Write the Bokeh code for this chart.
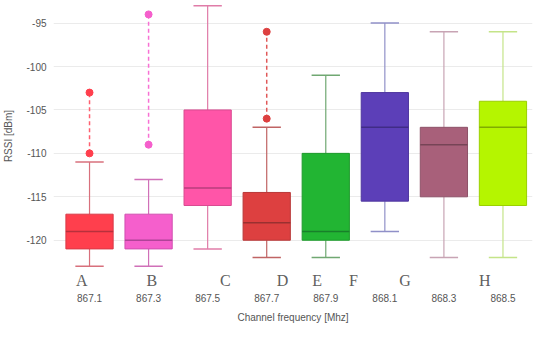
import numpy as np
from bokeh.plotting import figure
from bokeh.models import LinearAxis, FixedTicker, Range1d, ColumnDataSource
from bokeh.embed import file_html
from bokeh.resources import INLINE

# ---- data ----
freqs = ["867.1", "867.3", "867.5", "867.7", "867.9", "868.1", "868.3", "868.5"]
letters = ["A", "B", "C", "D", "E", "F", "G", "H"]
q1 = [-121, -121, -116, -120, -120, -115.5, -115, -116]
median = [-119, -120, -114, -118, -119, -107, -109, -107]
q3 = [-117, -117, -105, -114.5, -110, -103, -107, -104]
lower = [-123, -123, -121, -122, -122, -119, -122, -122]
upper = [-111, -113, -93, -107, -101, -95, -96, -96]
y_ticks = [-95, -100, -105, -110, -115, -120]

# outliers: category index and value
out_idx = [0, 0, 1, 1, 3, 3]
out_val = [-110, -103, -109, -94, -106, -96]

# annotation letter positions (in category units)
letter_pos = [0.367, 1.555, 2.8, 3.767, 4.355, 4.967, 5.84, 7.19]

fill_colors = ["#FF3F4D", "#F55FCC", "#FF55A8", "#DD4040", "#22B533", "#5C3FB8", "#A8607A", "#B5F500"]
line_colors = ["#D83A48", "#D050B0", "#D84A90", "#B83838", "#1E9A2C", "#4E369E", "#8E5268", "#9AD000"]
med_colors = ["#B8303C", "#B04498", "#B83E7C", "#9A3030", "#18802A", "#402C86", "#764456", "#80AC00"]
whisk_colors = ["#D8707C", "#D070B8", "#E07CA8", "#C06464", "#70A872", "#9090C8", "#C8A4B4", "#C4E488"]
out_colors = ["#FF3F4D", "#F55FCC", "#DD4040"]
out_line_colors = ["#FF6070", "#F870D4", "#E05858"]

# ---- derived positions ----
xc = np.arange(len(freqs)) + 0.5
bw = 0.8
cw = 0.48

src = ColumnDataSource(dict(
    x=xc, q1=q1, q3=q3, med=median, lo=lower, up=upper,
    fill=fill_colors, line=line_colors, medc=med_colors, wc=whisk_colors,
    bx0=xc - bw / 2, bx1=xc + bw / 2, cx0=xc - cw / 2, cx1=xc + cw / 2,
))

p = figure(width=534, height=325, output_backend="svg", toolbar_location=None,
           x_range=Range1d(-0.11, 8.0), y_range=Range1d(-123.6, -92.4),
           x_axis_location=None, min_border_top=0, min_border_right=2,
           min_border_left=0, min_border_bottom=0)
p.outline_line_color = None
p.xgrid.visible = False
p.ygrid.grid_line_color = "#EBEBEB"
p.ygrid.grid_line_width = 1

# y axis
ya = p.yaxis[0]
ya.ticker = FixedTicker(ticks=y_ticks)
ya.major_label_overrides = {t: str(t) for t in y_ticks}
ya.axis_line_color = None
ya.major_tick_line_color = None
ya.minor_tick_line_color = None
ya.major_tick_out = 0
ya.minor_tick_out = 0
ya.major_label_text_font = "Arial"
ya.major_label_text_font_size = "10px"
ya.major_label_text_color = "#555555"
ya.major_label_standoff = 7
ya.axis_label = "RSSI [dBm]"
ya.axis_label_text_font = "Arial"
ya.axis_label_text_font_style = "normal"
ya.axis_label_text_font_size = "10px"
ya.axis_label_text_color = "#555555"
ya.axis_label_standoff = 9

# letter axis (closest to plot)
la = LinearAxis(ticker=FixedTicker(ticks=letter_pos),
                major_label_overrides={pos: l for pos, l in zip(letter_pos, letters)})
la.axis_line_color = None
la.major_tick_line_color = None
la.minor_tick_line_color = None
la.major_tick_out = 0
la.minor_tick_out = 0
la.major_label_text_font = "Liberation Serif"
la.major_label_text_font_size = "16px"
la.major_label_text_color = "#606060"
la.major_label_standoff = 0
p.add_layout(la, "below")

# frequency axis
fa = LinearAxis(ticker=FixedTicker(ticks=list(xc)),
                major_label_overrides={float(x): f for x, f in zip(xc, freqs)})
fa.axis_line_color = None
fa.major_tick_line_color = None
fa.minor_tick_line_color = None
fa.major_tick_out = 0
fa.minor_tick_out = 0
fa.major_label_text_font = "Arial"
fa.major_label_text_font_size = "10px"
fa.major_label_text_color = "#555555"
fa.major_label_standoff = 2
fa.axis_label = "Channel frequency [Mhz]"
fa.axis_label_text_font = "Arial"
fa.axis_label_text_font_style = "normal"
fa.axis_label_text_font_size = "10px"
fa.axis_label_text_color = "#555555"
fa.axis_label_standoff = 7
p.add_layout(fa, "below")

# whiskers
p.segment(x0="x", y0="q3", x1="x", y1="up", line_color="wc", line_width=1.2, source=src)
p.segment(x0="x", y0="q1", x1="x", y1="lo", line_color="wc", line_width=1.2, source=src)
p.segment(x0="cx0", y0="up", x1="cx1", y1="up", line_color="wc", line_width=1.5, source=src)
p.segment(x0="cx0", y0="lo", x1="cx1", y1="lo", line_color="wc", line_width=1.5, source=src)

# boxes
p.quad(left="bx0", right="bx1", bottom="q1", top="q3", fill_color="fill",
       line_color="line", line_width=1, source=src)
p.segment(x0="bx0", y0="med", x1="bx1", y1="med", line_color="medc", line_width=1.5, source=src)

# outliers
oi = np.array(out_idx)
ov = np.array(out_val)
groups = sorted(set(out_idx))
for k, g in enumerate(groups):
    vals = ov[oi == g]
    p.segment(x0=[xc[g]], y0=[vals.min()], x1=[xc[g]], y1=[vals.max()],
              line_color=out_line_colors[k], line_width=1.5, line_dash="4 3")
    p.scatter(x=[xc[g]] * len(vals), y=list(vals), size=7,
              fill_color=out_colors[k], line_color=out_colors[k])

open("out.html", "w").write(file_html(p, INLINE))
